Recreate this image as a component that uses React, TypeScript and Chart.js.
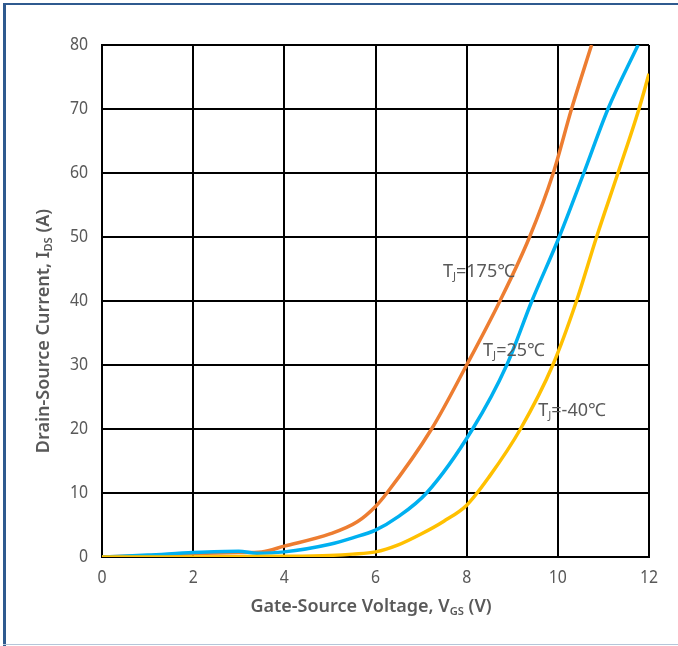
import React, { useEffect, useRef } from "react";
import { Chart, registerables } from "chart.js";

Chart.register(...registerables);

// Transfer characteristics: drain current vs gate-source voltage
const X_TICKS = [0, 2, 4, 6, 8, 10, 12];
const Y_TICKS = [0, 10, 20, 30, 40, 50, 60, 70, 80];

const VGS_175 = [0, 1, 2, 3, 3.5, 4, 5, 5.6, 6, 6.25, 7.23, 8, 8.73, 9.38, 9.9, 10.3, 10.74];
const IDS_175 = [0, 0.2, 0.5, 0.7, 0.8, 1.7, 3.6, 5.5, 7.9, 10, 20, 30, 40, 50, 60, 70, 80];

const VGS_25 = [0, 1, 2, 3, 3.4, 4, 5, 5.5, 6, 6.5, 7.12, 8.13, 8.88, 9.43, 10.03, 10.57, 11.1, 11.76];
const IDS_25 = [0, 0.3, 0.7, 0.9, 0.6, 0.8, 2.0, 3.0, 4.2, 6.3, 10, 20, 30, 40, 50, 60, 70, 80];

const VGS_M40 = [0, 2, 4, 5, 5.5, 6, 6.5, 7, 7.5, 8, 8.5, 9.18, 9.89, 10.41, 10.85, 11.32, 11.78, 12];
const IDS_M40 = [0, 0, 0.1, 0.25, 0.45, 0.8, 1.9, 3.6, 5.6, 8.1, 12.6, 20, 30, 40, 50, 60, 70, 75.5];

const LABEL_175 = { x: 7.48, y: 44.5, main: "T", sub: "J", rest: "=175℃" };
const LABEL_25 = { x: 8.36, y: 32.2, main: "T", sub: "J", rest: "=25℃" };
const LABEL_M40 = { x: 9.57, y: 22.8, main: "T", sub: "J", rest: "=-40℃" };

const X_TITLE = [{ t: "Gate-Source Voltage, V" }, { t: "GS", sub: true }, { t: " (V)" }];
const Y_TITLE = [{ t: "Drain-Source Current, I" }, { t: "DS", sub: true }, { t: " (A)" }];

const toPoints = (xs: number[], ys: number[]) => xs.map((x, i) => ({ x, y: ys[i] }));

const FONT = '"Noto Sans", "Noto Sans CJK SC", sans-serif';
const TEXT_COLOR = "#595959";

type Part = { t: string; sub?: boolean };

function measure(ctx: CanvasRenderingContext2D, parts: Part[], size: number, weight: string) {
  let w = 0;
  for (const p of parts) {
    ctx.font = `${weight} ${p.sub ? size * 0.62 : size}px ${FONT}`;
    w += ctx.measureText(p.t).width;
  }
  return w;
}

// Draws text runs with subscripts starting at local x=0 on the middle baseline
function drawRuns(ctx: CanvasRenderingContext2D, parts: Part[], size: number, weight: string) {
  let x = 0;
  ctx.textBaseline = "middle";
  ctx.textAlign = "left";
  for (const p of parts) {
    const s = p.sub ? size * 0.62 : size;
    ctx.font = `${weight} ${s}px ${FONT}`;
    ctx.fillText(p.t, x, p.sub ? size * 0.28 : 0);
    x += ctx.measureText(p.t).width;
  }
}

function drawLabel(
  ctx: CanvasRenderingContext2D,
  parts: Part[],
  x: number,
  y: number,
  align: "left" | "center" | "right",
  size: number,
  weight: string,
  squeeze: number,
  rotate = false
) {
  const w = measure(ctx, parts, size, weight) * squeeze;
  ctx.save();
  ctx.fillStyle = TEXT_COLOR;
  ctx.translate(x, y);
  if (rotate) ctx.rotate(-Math.PI / 2);
  const off = align === "left" ? 0 : align === "center" ? -w / 2 : -w;
  ctx.translate(off, 0);
  ctx.scale(squeeze, 1);
  drawRuns(ctx, parts, size, weight);
  ctx.restore();
}

const textPlugin = {
  id: "textPlugin",
  afterDraw(chart: any) {
    const ctx: CanvasRenderingContext2D = chart.ctx;
    const xs = chart.scales.x;
    const ys = chart.scales.y;
    const area = chart.chartArea;
    for (const v of Y_TICKS) {
      drawLabel(ctx, [{ t: String(v) }], area.left - 14, ys.getPixelForValue(v), "right", 18, "400", 0.88);
    }
    for (const v of X_TICKS) {
      drawLabel(ctx, [{ t: String(v) }], xs.getPixelForValue(v), area.bottom + 21, "center", 18, "400", 0.88);
    }
    drawLabel(ctx, X_TITLE, 371, 607, "center", 18, "600", 1);
    drawLabel(ctx, Y_TITLE, 44, 331, "center", 18, "600", 1, true);
    for (const l of [LABEL_175, LABEL_25, LABEL_M40]) {
      drawLabel(
        ctx,
        [{ t: l.main }, { t: l.sub, sub: true }, { t: l.rest }],
        xs.getPixelForValue(l.x),
        ys.getPixelForValue(l.y),
        "left",
        18,
        "400",
        1
      );
    }
  },
};

export default function App() {
  const ref = useRef<HTMLCanvasElement | null>(null);

  useEffect(() => {
    if (!ref.current) return;
    const chart = new Chart(ref.current, {
      type: "line",
      data: {
        datasets: [
          {
            label: "Tj=-40℃",
            data: toPoints(VGS_M40, IDS_M40),
            borderColor: "#FFC000",
            borderWidth: 3.5,
            pointRadius: 0,
            cubicInterpolationMode: "monotone",
            order: 0,
          },
          {
            label: "Tj=25℃",
            data: toPoints(VGS_25, IDS_25),
            borderColor: "#00B0F0",
            borderWidth: 3.5,
            pointRadius: 0,
            cubicInterpolationMode: "monotone",
            order: 1,
          },
          {
            label: "Tj=175℃",
            data: toPoints(VGS_175, IDS_175),
            borderColor: "#ED7D31",
            borderWidth: 3.5,
            pointRadius: 0,
            cubicInterpolationMode: "monotone",
            order: 2,
          },
        ],
      },
      options: {
        animation: false,
        responsive: false,
        devicePixelRatio: 1,
        layout: { padding: { left: 0, top: 45, right: 29, bottom: 0 } },
        plugins: { legend: { display: false }, tooltip: { enabled: false } },
        scales: {
          x: {
            type: "linear",
            min: 0,
            max: 12,
            ticks: { stepSize: 2, display: false },
            grid: { color: "#000", lineWidth: 2, drawTicks: false },
            border: { color: "#000", width: 2 },
            afterFit: (s: any) => {
              s.height = 89;
            },
          },
          y: {
            type: "linear",
            min: 0,
            max: 80,
            ticks: { stepSize: 10, display: false },
            grid: { color: "#000", lineWidth: 2, drawTicks: false },
            border: { color: "#000", width: 2 },
            afterFit: (s: any) => {
              s.width = 102;
            },
          },
        },
      },
      plugins: [textPlugin],
    });
    return () => chart.destroy();
  }, []);

  return (
    <div style={{ position: "absolute", left: 0, top: 0, width: 678, height: 646, background: "#fff" }}>
      <canvas ref={ref} width={678} height={646} style={{ position: "absolute", left: 0, top: 0 }} />
      <div style={{ position: "absolute", left: 3, top: 3, width: 675, height: 2, background: "#2F5A8F" }} />
      <div style={{ position: "absolute", left: 3, top: 3, width: 3, height: 643, background: "#2F5A8F" }} />
      <div style={{ position: "absolute", left: 3, top: 644, width: 675, height: 1, background: "#B5C6D9" }} />
    </div>
  );
}
